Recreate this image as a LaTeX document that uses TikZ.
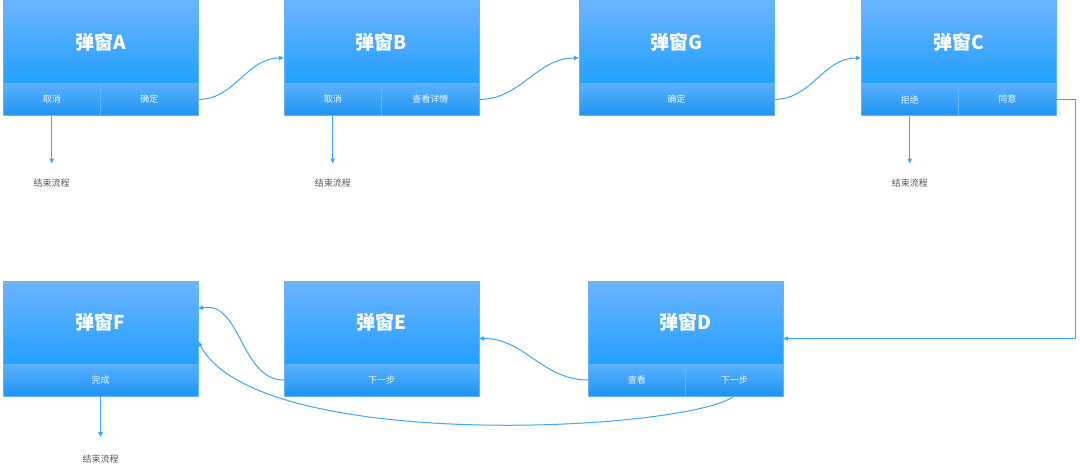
\documentclass[tikz,border=0pt]{standalone}
\usepackage{fontspec}
\setmainfont{Noto Sans CJK SC}
\usetikzlibrary{positioning, fit, arrows.meta}
\usepackage{xcolor}
\definecolor{wintop}{HTML}{6CB4FF}
\definecolor{winbot}{HTML}{22A0FF}
\definecolor{btntop}{HTML}{5AB0FF}
\definecolor{btnbot}{HTML}{1E94F0}
\definecolor{edge}{HTML}{62B6FF}
\definecolor{flow}{HTML}{3AA6F5}
\definecolor{endgray}{HTML}{555555}

\begin{document}
\begin{tikzpicture}[
    x=1pt, y=1pt,
    win/.style={rectangle, anchor=north west, minimum width=195pt, minimum height=83pt, inner sep=0pt, outer sep=0pt,
        top color=wintop, bottom color=winbot, draw=edge, line width=0.8pt, text=white, font=\bfseries\fontsize{19}{19}\selectfont},
    btn/.style={rectangle, minimum width=97.5pt, minimum height=32pt, inner sep=0pt, outer sep=0pt,
        top color=btntop, bottom color=btnbot, draw=edge, line width=0.6pt, text=white!88!edge, font=\fontsize{9}{9}\selectfont},
    endtxt/.style={text=endgray, inner sep=0pt, font=\fontsize{9}{9}\selectfont},
    arrow/.style={-{Triangle[length=5pt,width=4.5pt]}, draw=flow, line width=1pt}
]
\useasboundingbox (0,0) rectangle (1080,-466);

% Row 1
\node[win] (a) at (3,-0.5) {弹窗A};
\node[btn, below right=0pt and 0pt of a.south west] (a1) {取消};
\node[btn, right=0pt of a1] (a2) {确定};
\node[fit=(a) (a1) (a2), inner sep=0pt] (boxa) {};

\node[win] (b) at (284,-0.5) {弹窗B};
\node[btn, below right=0pt and 0pt of b.south west] (b1) {取消};
\node[btn, right=0pt of b1] (b2) {查看详情};
\node[fit=(b) (b1) (b2), inner sep=0pt] (boxb) {};

\node[win] (g) at (579,-0.5) {弹窗G};
\node[btn, minimum width=195pt, below right=0pt and 0pt of g.south west] (g1) {确定};
\node[fit=(g) (g1), inner sep=0pt] (boxg) {};

\node[win] (c) at (861,-0.5) {弹窗C};
\node[btn, below right=0pt and 0pt of c.south west] (c1) {拒绝};
\node[btn, right=0pt of c1] (c2) {同意};
\node[fit=(c) (c1) (c2), inner sep=0pt] (boxc) {};

% Row 2
\node[win] (d) at (588,-281) {弹窗D};
\node[btn, below right=0pt and 0pt of d.south west] (d1) {查看};
\node[btn, right=0pt of d1] (d2) {下一步};
\node[fit=(d) (d1) (d2), inner sep=0pt] (boxd) {};

\node[win] (e) at (284,-281) {弹窗E};
\node[btn, minimum width=195pt, below right=0pt and 0pt of e.south west] (e1) {下一步};
\node[fit=(e) (e1), inner sep=0pt] (boxe) {};

\node[win] (f) at (3,-281) {弹窗F};
\node[btn, minimum width=195pt, below right=0pt and 0pt of f.south west] (f1) {完成};
\node[fit=(f) (f1), inner sep=0pt] (boxf) {};

% End labels
\node[endtxt, below=63pt of a1] (enda) {结束流程};
\node[endtxt, below=63pt of b1] (endb) {结束流程};
\node[endtxt, below=63pt of c1] (endc) {结束流程};
\node[endtxt, below=59pt of f1] (endf) {结束流程};

% Connecting arrows
\draw[arrow] (a2.east) to[out=0, in=180] (boxb.west);
\draw[arrow] (b2.east) to[out=0, in=180] (boxg.west);
\draw[arrow] (g1.east) to[out=0, in=180] (boxc.west);
\draw[arrow] (c2.east) -- ++(19,0) |- (boxd.east);
\draw[arrow] (d1.west) to[out=180, in=0] (boxe.east);
\draw[arrow] (e1.west) to[out=180, in=10] ([yshift=30pt]boxf.east);
\draw[arrow] (d2.south) .. controls +(-45,-35) and +(60,-113) .. ([yshift=-3pt]boxf.east);

\draw[arrow, shorten >=15pt] (a1.south) -- (enda.north);
\draw[arrow, shorten >=15pt] (b1.south) -- (endb.north);
\draw[arrow, shorten >=15pt] (c1.south) -- (endc.north);
\draw[arrow, shorten >=18pt] (f1.south) -- (endf.north);

\end{tikzpicture}
\end{document}
